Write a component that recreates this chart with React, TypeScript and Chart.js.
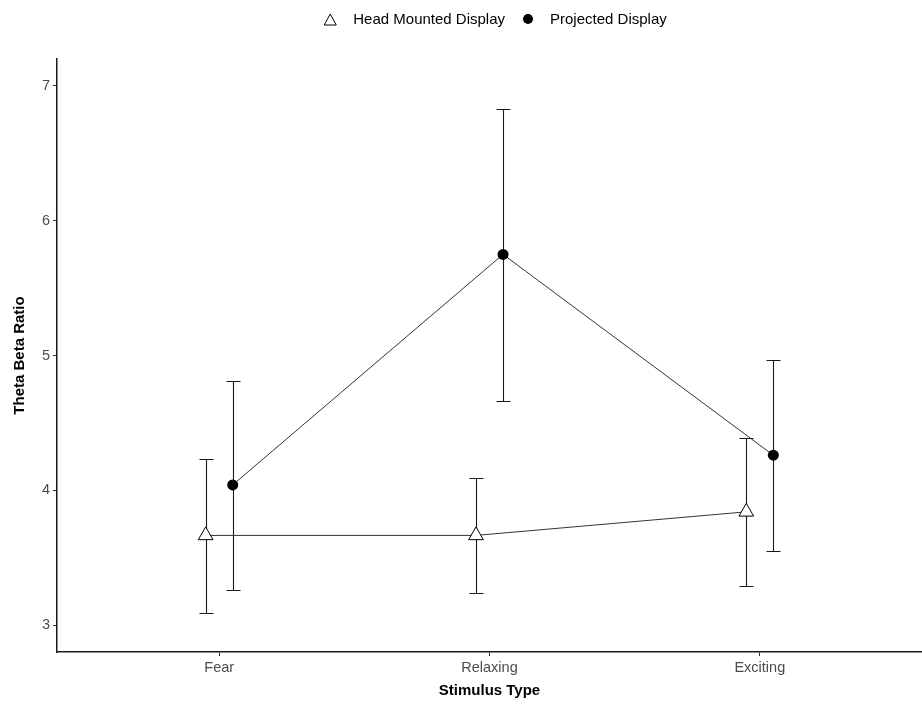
import React, { useEffect, useRef } from 'react';
import { Chart, registerables } from 'chart.js';

Chart.register(...registerables);

// ---- data ----
const categories = ['Fear', 'Relaxing', 'Exciting'];
const seriesNames = ['Head Mounted Display', 'Projected Display'];
const hmdMean = [3.665, 3.665, 3.84];
const hmdLower = [3.09, 3.24, 3.29];
const hmdUpper = [4.235, 4.09, 4.385];
const pdMean = [4.04, 5.75, 4.26];
const pdLower = [3.26, 4.66, 3.55];
const pdUpper = [4.81, 6.83, 4.97];
const yTicks = [3, 4, 5, 6, 7];
const dodge = [-0.05, 0.05];

const FONT = '"Liberation Sans", Arial, Helvetica, sans-serif';

function buildPoints(mean: number[], lower: number[], upper: number[], off: number) {
  return categories.map((_, i) => ({ x: i + off, y: mean[i], lo: lower[i], hi: upper[i] }));
}

const errorBarPlugin = {
  id: 'errorBars',
  beforeDatasetsDraw(chart: any) {
    const { ctx, scales } = chart;
    const xs = scales.x;
    const ys = scales.y;
    ctx.save();
    ctx.strokeStyle = '#1a1a1a';
    ctx.lineWidth = 1.1;
    const cap = 7;
    chart.data.datasets.forEach((ds: any) => {
      ds.data.forEach((p: any) => {
        const px = Math.round(xs.getPixelForValue(p.x)) + 0.5;
        const top = Math.round(ys.getPixelForValue(p.hi)) + 0.5;
        const bot = Math.round(ys.getPixelForValue(p.lo)) + 0.5;
        ctx.beginPath();
        ctx.moveTo(px, top);
        ctx.lineTo(px, bot);
        ctx.moveTo(px - cap, top);
        ctx.lineTo(px + cap, top);
        ctx.moveTo(px - cap, bot);
        ctx.lineTo(px + cap, bot);
        ctx.stroke();
      });
    });
    ctx.restore();
  },
};

const legendPlugin = {
  id: 'customLegend',
  afterDraw(chart: any) {
    const { ctx, chartArea } = chart;
    ctx.save();
    ctx.font = `15px ${FONT}`;
    ctx.textBaseline = 'middle';
    ctx.fillStyle = '#000';
    const markerW = [12, 10];
    const gap = 17;
    const between = 18;
    const widths = seriesNames.map((s) => ctx.measureText(s).width);
    const total = markerW[0] + gap + widths[0] + between + markerW[1] + gap + widths[1];
    const cy = 20;
    let x = (chartArea.left + chartArea.right) / 2 + 6 - total / 2;
    // triangle (HMD)
    ctx.beginPath();
    ctx.moveTo(x + markerW[0] / 2, cy - 6);
    ctx.lineTo(x + markerW[0], cy + 5);
    ctx.lineTo(x, cy + 5);
    ctx.closePath();
    ctx.fillStyle = '#fff';
    ctx.fill();
    ctx.strokeStyle = '#000';
    ctx.lineWidth = 1;
    ctx.stroke();
    x += markerW[0] + gap;
    ctx.fillStyle = '#000';
    ctx.fillText(seriesNames[0], x, cy);
    x += widths[0] + between;
    // circle (PD)
    ctx.beginPath();
    ctx.arc(x + markerW[1] / 2, cy - 1, markerW[1] / 2, 0, Math.PI * 2);
    ctx.fill();
    x += markerW[1] + gap;
    ctx.fillText(seriesNames[1], x, cy);
    ctx.restore();
  },
};

export default function App() {
  const canvasRef = useRef<HTMLCanvasElement | null>(null);

  useEffect(() => {
    if (!canvasRef.current) return;
    const chart = new Chart(canvasRef.current, {
      type: 'line',
      data: {
        datasets: [
          {
            label: seriesNames[0],
            data: buildPoints(hmdMean, hmdLower, hmdUpper, dodge[0]),
            borderColor: '#333333',
            borderWidth: 1,
            pointStyle: 'triangle',
            pointRadius: 8.5,
            pointBackgroundColor: '#ffffff',
            pointBorderColor: '#000000',
            pointBorderWidth: 1,
            fill: false,
            tension: 0,
          },
          {
            label: seriesNames[1],
            data: buildPoints(pdMean, pdLower, pdUpper, dodge[1]),
            borderColor: '#333333',
            borderWidth: 1,
            pointStyle: 'circle',
            pointRadius: 5.5,
            pointBackgroundColor: '#000000',
            pointBorderColor: '#000000',
            pointBorderWidth: 0,
            fill: false,
            tension: 0,
          },
        ],
      } as any,
      options: {
        animation: false,
        responsive: false,
        maintainAspectRatio: false,
        devicePixelRatio: 1,
        events: [],
        layout: { autoPadding: false, padding: { top: 59, left: 0, right: 0, bottom: 0 } },
        plugins: {
          legend: { display: false },
          tooltip: { enabled: false },
        },
        scales: {
          x: {
            type: 'linear',
            min: -0.6,
            max: 2.6,
            afterBuildTicks: (s: any) => {
              s.ticks = categories.map((_, i) => ({ value: i }));
            },
            afterFit: (s: any) => {
              s.height = 55;
              s.paddingLeft = 0;
              s.paddingRight = 0;
            },
            ticks: {
              callback: (v: any) => categories[Math.round(Number(v))] ?? '',
              color: '#4d4d4d',
              font: { family: FONT, size: 14.5 },
              padding: 3,
              maxRotation: 0,
              autoSkip: false,
            },
            grid: {
              display: true,
              drawOnChartArea: false,
              drawTicks: true,
              tickLength: 4,
              color: '#333333',
              tickColor: '#333333',
            },
            border: { display: true, color: '#1a1a1a', width: 1.5 },
            title: {
              display: true,
              text: 'Stimulus Type',
              color: '#000',
              font: { family: FONT, size: 15, weight: 'bold', lineHeight: 1.2 },
              padding: { top: 0, bottom: 7 },
            },
          },
          y: {
            type: 'linear',
            min: 2.8,
            max: 7.2,
            afterBuildTicks: (s: any) => {
              s.ticks = yTicks.map((v) => ({ value: v }));
            },
            afterFit: (s: any) => {
              s.width = 57;
              s.paddingTop = 0;
              s.paddingBottom = 0;
            },
            ticks: {
              color: '#4d4d4d',
              font: { family: FONT, size: 14.5 },
              padding: 3,
            },
            grid: {
              display: true,
              drawOnChartArea: false,
              drawTicks: true,
              tickLength: 4,
              color: '#333333',
              tickColor: '#333333',
            },
            border: { display: true, color: '#1a1a1a', width: 1.5 },
            title: {
              display: true,
              text: 'Theta Beta Ratio',
              color: '#000',
              font: { family: FONT, size: 15, weight: 'bold', lineHeight: 1.2 },
              padding: { top: 11, bottom: 0 },
            },
          },
        },
      } as any,
      plugins: [errorBarPlugin, legendPlugin],
    });
    return () => chart.destroy();
  }, []);

  return (
    <div style={{ position: 'absolute', left: 0, top: 0, width: 922, height: 707, background: '#fff' }}>
      <canvas ref={canvasRef} width={922} height={707} style={{ display: 'block', width: 922, height: 707 }} />
    </div>
  );
}
